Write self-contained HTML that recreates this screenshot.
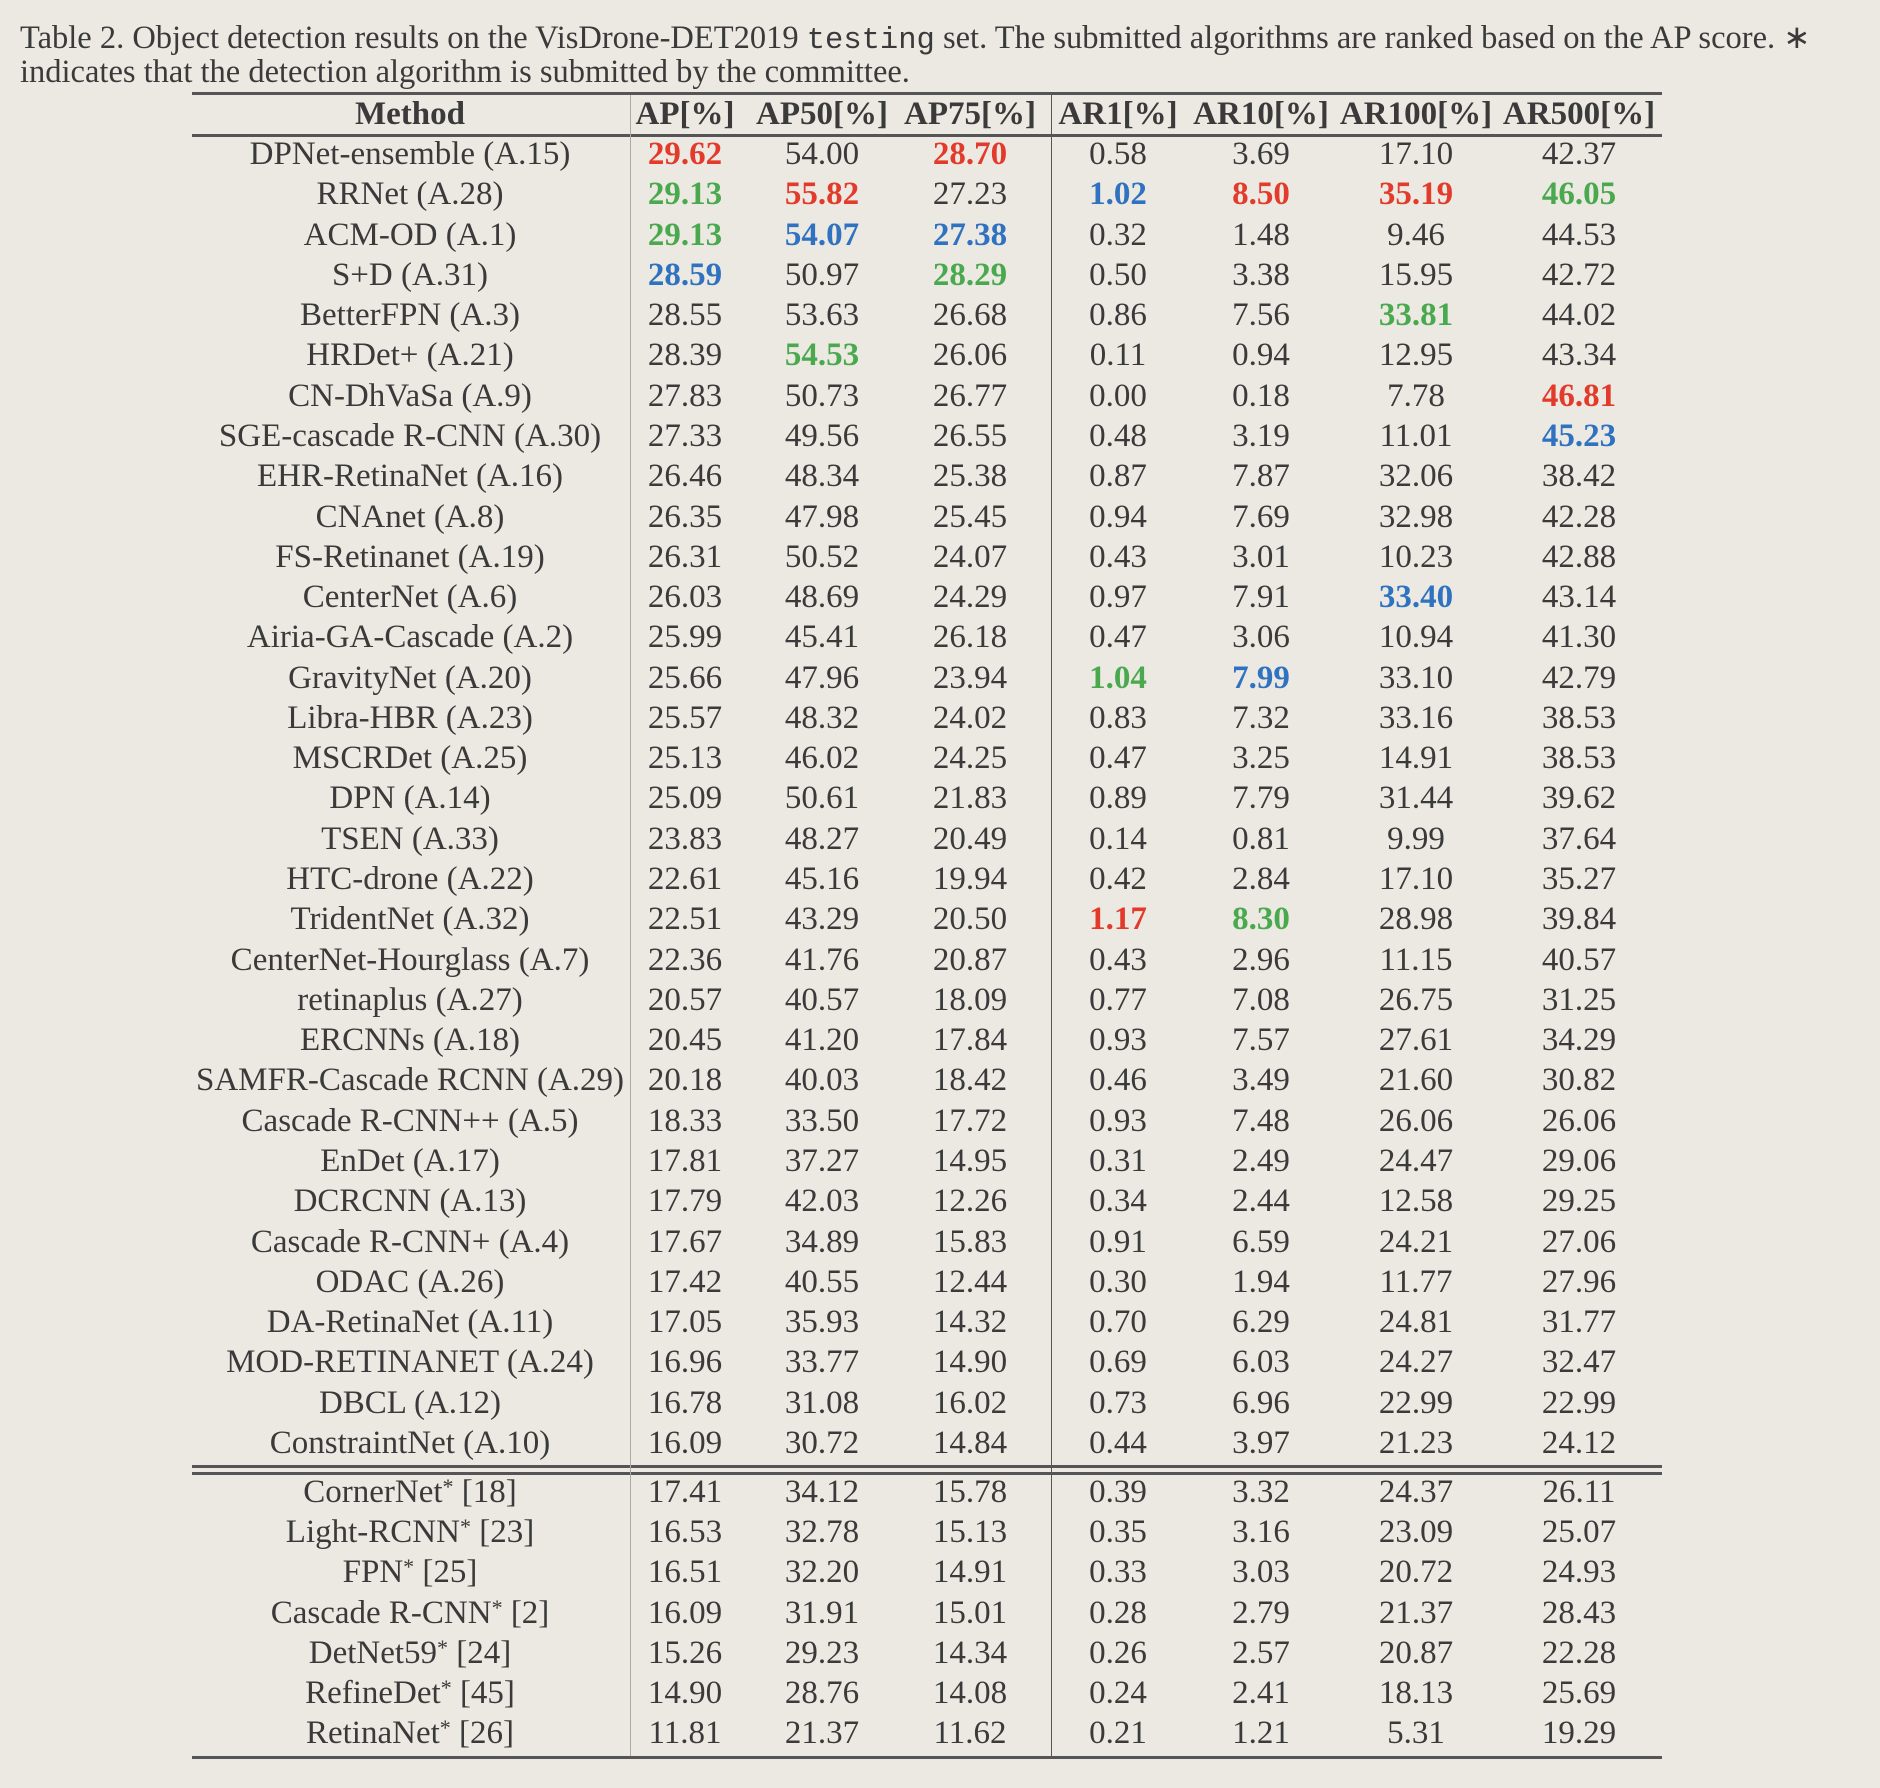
<!DOCTYPE html>
<html><head><meta charset="utf-8">
<style>
html,body{margin:0;padding:0;background:#ecE9e3;}
body{width:1880px;height:1788px;position:relative;overflow:hidden;font-family:"Liberation Serif",serif;color:#3a3a3a;}
.cap{position:absolute;left:20px;font-size:32.5px;white-space:nowrap;line-height:40px;}
.mono{font-family:"Liberation Mono",monospace;font-size:30.5px;}
.c{position:absolute;font-size:33px;line-height:40px;height:40px;white-space:nowrap;transform:translateX(-50%);}
.h{font-weight:bold;}
.r{color:#e33b2b;font-weight:bold;}.g{color:#4aa94e;font-weight:bold;}.b{color:#2f72c0;font-weight:bold;}
.hl{position:absolute;left:192px;width:1470px;background:#555;}
.vl{position:absolute;width:1px;}
sup{font-size:22px;vertical-align:top;position:relative;top:-5px;}
</style></head><body>
<div class="cap" style="top:18px">Table 2. Object detection results on the VisDrone-DET2019 <span class="mono">testing</span> set. The submitted algorithms are ranked based on the AP score. ∗</div>
<div class="cap" style="top:52px">indicates that the detection algorithm is submitted by the committee.</div>
<div class="hl" style="top:92px;height:3px"></div>
<div class="hl" style="top:134px;height:3px"></div>
<div class="hl" style="top:1465px;height:3px"></div>
<div class="hl" style="top:1472px;height:3px"></div>
<div class="hl" style="top:1756px;height:3px"></div>
<div class="vl" style="left:630px;top:95px;height:1661px;background:#aaa"></div>
<div class="vl" style="left:1051px;top:95px;height:1661px;background:#555"></div>
<div id="t"></div>
<script>
const headers=["Method","AP[%]","AP50[%]","AP75[%]","AR1[%]","AR10[%]","AR100[%]","AR500[%]"];
const methods=["DPNet-ensemble (A.15)","RRNet (A.28)","ACM-OD (A.1)","S+D (A.31)","BetterFPN (A.3)","HRDet+ (A.21)","CN-DhVaSa (A.9)","SGE-cascade R-CNN (A.30)","EHR-RetinaNet (A.16)","CNAnet (A.8)","FS-Retinanet (A.19)","CenterNet (A.6)","Airia-GA-Cascade (A.2)","GravityNet (A.20)","Libra-HBR (A.23)","MSCRDet (A.25)","DPN (A.14)","TSEN (A.33)","HTC-drone (A.22)","TridentNet (A.32)","CenterNet-Hourglass (A.7)","retinaplus (A.27)","ERCNNs (A.18)","SAMFR-Cascade RCNN (A.29)","Cascade R-CNN++ (A.5)","EnDet (A.17)","DCRCNN (A.13)","Cascade R-CNN+ (A.4)","ODAC (A.26)","DA-RetinaNet (A.11)","MOD-RETINANET (A.24)","DBCL (A.12)","ConstraintNet (A.10)"];
const values=[
"r29.62 54.00 r28.70 0.58 3.69 17.10 42.37","g29.13 r55.82 27.23 b1.02 r8.50 r35.19 g46.05","g29.13 b54.07 b27.38 0.32 1.48 9.46 44.53","b28.59 50.97 g28.29 0.50 3.38 15.95 42.72","28.55 53.63 26.68 0.86 7.56 g33.81 44.02","28.39 g54.53 26.06 0.11 0.94 12.95 43.34","27.83 50.73 26.77 0.00 0.18 7.78 r46.81","27.33 49.56 26.55 0.48 3.19 11.01 b45.23","26.46 48.34 25.38 0.87 7.87 32.06 38.42","26.35 47.98 25.45 0.94 7.69 32.98 42.28","26.31 50.52 24.07 0.43 3.01 10.23 42.88","26.03 48.69 24.29 0.97 7.91 b33.40 43.14","25.99 45.41 26.18 0.47 3.06 10.94 41.30","25.66 47.96 23.94 g1.04 b7.99 33.10 42.79","25.57 48.32 24.02 0.83 7.32 33.16 38.53","25.13 46.02 24.25 0.47 3.25 14.91 38.53","25.09 50.61 21.83 0.89 7.79 31.44 39.62","23.83 48.27 20.49 0.14 0.81 9.99 37.64","22.61 45.16 19.94 0.42 2.84 17.10 35.27","22.51 43.29 20.50 r1.17 g8.30 28.98 39.84","22.36 41.76 20.87 0.43 2.96 11.15 40.57","20.57 40.57 18.09 0.77 7.08 26.75 31.25","20.45 41.20 17.84 0.93 7.57 27.61 34.29","20.18 40.03 18.42 0.46 3.49 21.60 30.82","18.33 33.50 17.72 0.93 7.48 26.06 26.06","17.81 37.27 14.95 0.31 2.49 24.47 29.06","17.79 42.03 12.26 0.34 2.44 12.58 29.25","17.67 34.89 15.83 0.91 6.59 24.21 27.06","17.42 40.55 12.44 0.30 1.94 11.77 27.96","17.05 35.93 14.32 0.70 6.29 24.81 31.77","16.96 33.77 14.90 0.69 6.03 24.27 32.47","16.78 31.08 16.02 0.73 6.96 22.99 22.99","16.09 30.72 14.84 0.44 3.97 21.23 24.12"];
const baseNames=["CornerNet","Light-RCNN","FPN","Cascade R-CNN","DetNet59","RefineDet","RetinaNet"];
const baseRefs=["[18]","[23]","[25]","[2]","[24]","[45]","[26]"];
const baseValues=["17.41 34.12 15.78 0.39 3.32 24.37 26.11","16.53 32.78 15.13 0.35 3.16 23.09 25.07","16.51 32.20 14.91 0.33 3.03 20.72 24.93","16.09 31.91 15.01 0.28 2.79 21.37 28.43","15.26 29.23 14.34 0.26 2.57 20.87 22.28","14.90 28.76 14.08 0.24 2.41 18.13 25.69","11.81 21.37 11.62 0.21 1.21 5.31 19.29"];
const colX=[410,685,822,970,1118,1261,1416,1579];
const t=document.getElementById('t');
function cell(x,yc,html,cls,name){
  const d=document.createElement('div');
  d.className='c '+(cls||'');
  d.style.left=x+'px';d.style.top=(yc-20)+'px';
  d.innerHTML=html;
  
  
  t.appendChild(d);
}
headers.forEach((h,i)=>cell(colX[i],114,h,'h','header-'+h.replace(/\[%\]/,'').toLowerCase()));
function row(yc,name,vals,key){
  cell(colX[0],yc,name,'',key+'-method');
  vals.split(' ').forEach((v,j)=>{
    let cls='';
    if(/^[rgb]/.test(v)){cls=v[0];v=v.slice(1);}
    cell(colX[j+1],yc,v,cls,key+'-'+headers[j+1].replace(/\[%\]/,'').toLowerCase());
  });
}
methods.forEach((m,i)=>row(154+i*40.28,m,values[i],'row-'+(i+1)));
baseNames.forEach((m,i)=>row(1492+i*40.2,m+'<sup>*</sup> '+baseRefs[i],baseValues[i],'baseline-'+(i+1)));
</script>
</body></html>
